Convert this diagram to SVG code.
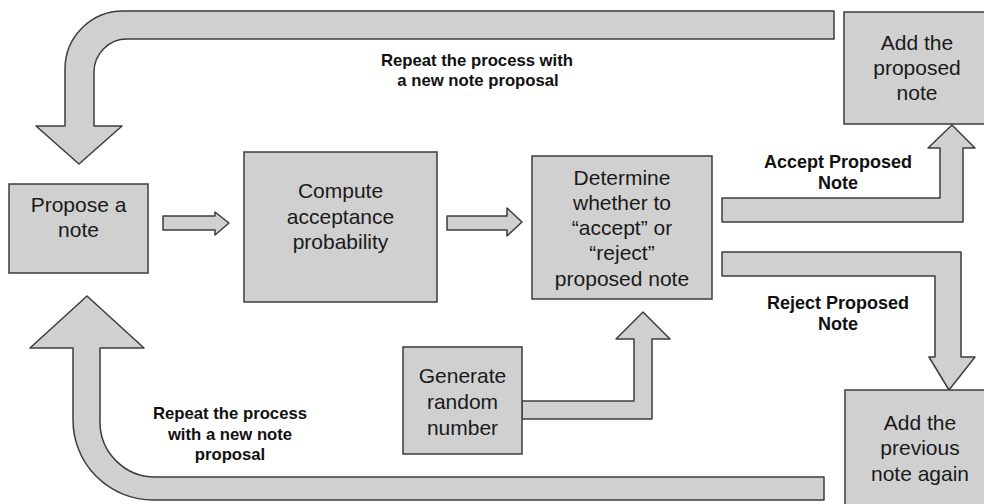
<svg xmlns="http://www.w3.org/2000/svg" width="984" height="504" viewBox="0 0 984 504">
  <style>
    .box { fill: #d0d0d0; stroke: #3c3c3c; stroke-width: 1.5; }
    .arrow { fill: #d0d0d0; stroke: #3c3c3c; stroke-width: 1.5; stroke-linejoin: round; }
    .node-text { font-family: "Liberation Sans", Arial, sans-serif; font-size: 21px; fill: #1a1a1a; text-anchor: middle; }
    .label { font-family: "Liberation Sans", Arial, sans-serif; font-weight: bold; fill: #111; text-anchor: middle; }
  </style>
  <rect width="984" height="504" fill="#ffffff"/>

  <g id="connectors">
    <!-- Top feedback arrow: from Add proposed note back to Propose -->
    <path class="arrow" d="M834,11 L123,11 A58,58 0 0 0 65,69 L65,126 L36,126 L79,164 L122,126 L94,126 L94,72 A33,33 0 0 1 127,39 L834,39 Z"/>
    <!-- Bottom feedback arrow: from Add previous note back to Propose -->
    <path class="arrow" d="M824,477 L155,477 A55,55 0 0 1 100,422 L100,348 L144,348 L87,296 L30,348 L73,348 L73,420 A80,80 0 0 0 153,500 L824,500 Z"/>
    <!-- Propose -> Compute -->
    <path class="arrow" d="M163,216 L215,216 L215,212 L229,223 L215,235 L215,230 L163,230 Z"/>
    <!-- Compute -> Determine -->
    <path class="arrow" d="M447,216 L507,216 L507,208 L522,222 L507,236 L507,230 L447,230 Z"/>
    <!-- Determine -> Add proposed (accept) -->
    <path class="arrow" d="M722,198 L940,198 L940,148 L928,148 L952,125 L975,148 L963,148 L963,222 L722,222 Z"/>
    <!-- Determine -> Add previous (reject) -->
    <path class="arrow" d="M722,252 L961,252 L961,357 L975,357 L949,390 L929,357 L935,357 L935,276 L722,276 Z"/>
    <!-- Generate -> Determine -->
    <path class="arrow" d="M522,401 L634,401 L634,339 L616,339 L643,312 L670,339 L652,339 L652,419 L522,419 Z"/>

    <text class="label" font-size="16.7" x="477" y="66">Repeat the process with</text>
    <text class="label" font-size="16.7" x="478" y="86">a new note proposal</text>
    <text class="label" font-size="18" x="838" y="168">Accept Proposed</text>
    <text class="label" font-size="18" x="838" y="189">Note</text>
    <text class="label" font-size="18" x="838" y="309">Reject Proposed</text>
    <text class="label" font-size="18" x="838" y="330">Note</text>
    <text class="label" font-size="16.7" x="230" y="419">Repeat the process</text>
    <text class="label" font-size="16.7" x="230" y="440">with a new note</text>
    <text class="label" font-size="16.7" x="230" y="460">proposal</text>
  </g>

  <g id="propose">
    <rect class="box" x="9" y="184" width="139" height="89"/>
    <text class="node-text" x="78.5" y="212">Propose a</text>
    <text class="node-text" x="78.5" y="237">note</text>
  </g>

  <g id="compute">
    <rect class="box" x="244" y="152" width="193" height="150"/>
    <text class="node-text" x="340.5" y="198">Compute</text>
    <text class="node-text" x="340.5" y="223.5">acceptance</text>
    <text class="node-text" x="340.5" y="249">probability</text>
  </g>

  <g id="determine">
    <rect class="box" x="532" y="156" width="180" height="143"/>
    <text class="node-text" x="622" y="185">Determine</text>
    <text class="node-text" x="622" y="210">whether to</text>
    <text class="node-text" x="622" y="235">“accept” or</text>
    <text class="node-text" x="622" y="260">“reject”</text>
    <text class="node-text" x="622" y="286">proposed note</text>
  </g>

  <g id="generate">
    <rect class="box" x="403" y="347" width="119" height="107"/>
    <text class="node-text" x="462.5" y="383">Generate</text>
    <text class="node-text" x="462.5" y="409">random</text>
    <text class="node-text" x="462.5" y="435">number</text>
  </g>

  <g id="add-proposed">
    <rect class="box" x="844" y="12" width="150" height="112"/>
    <text class="node-text" x="917" y="50">Add the</text>
    <text class="node-text" x="917" y="75">proposed</text>
    <text class="node-text" x="917" y="100">note</text>
  </g>

  <g id="add-previous">
    <rect class="box" x="845" y="390" width="150" height="130"/>
    <text class="node-text" x="920" y="430">Add the</text>
    <text class="node-text" x="920" y="455">previous</text>
    <text class="node-text" x="920" y="481">note again</text>
  </g>
</svg>
